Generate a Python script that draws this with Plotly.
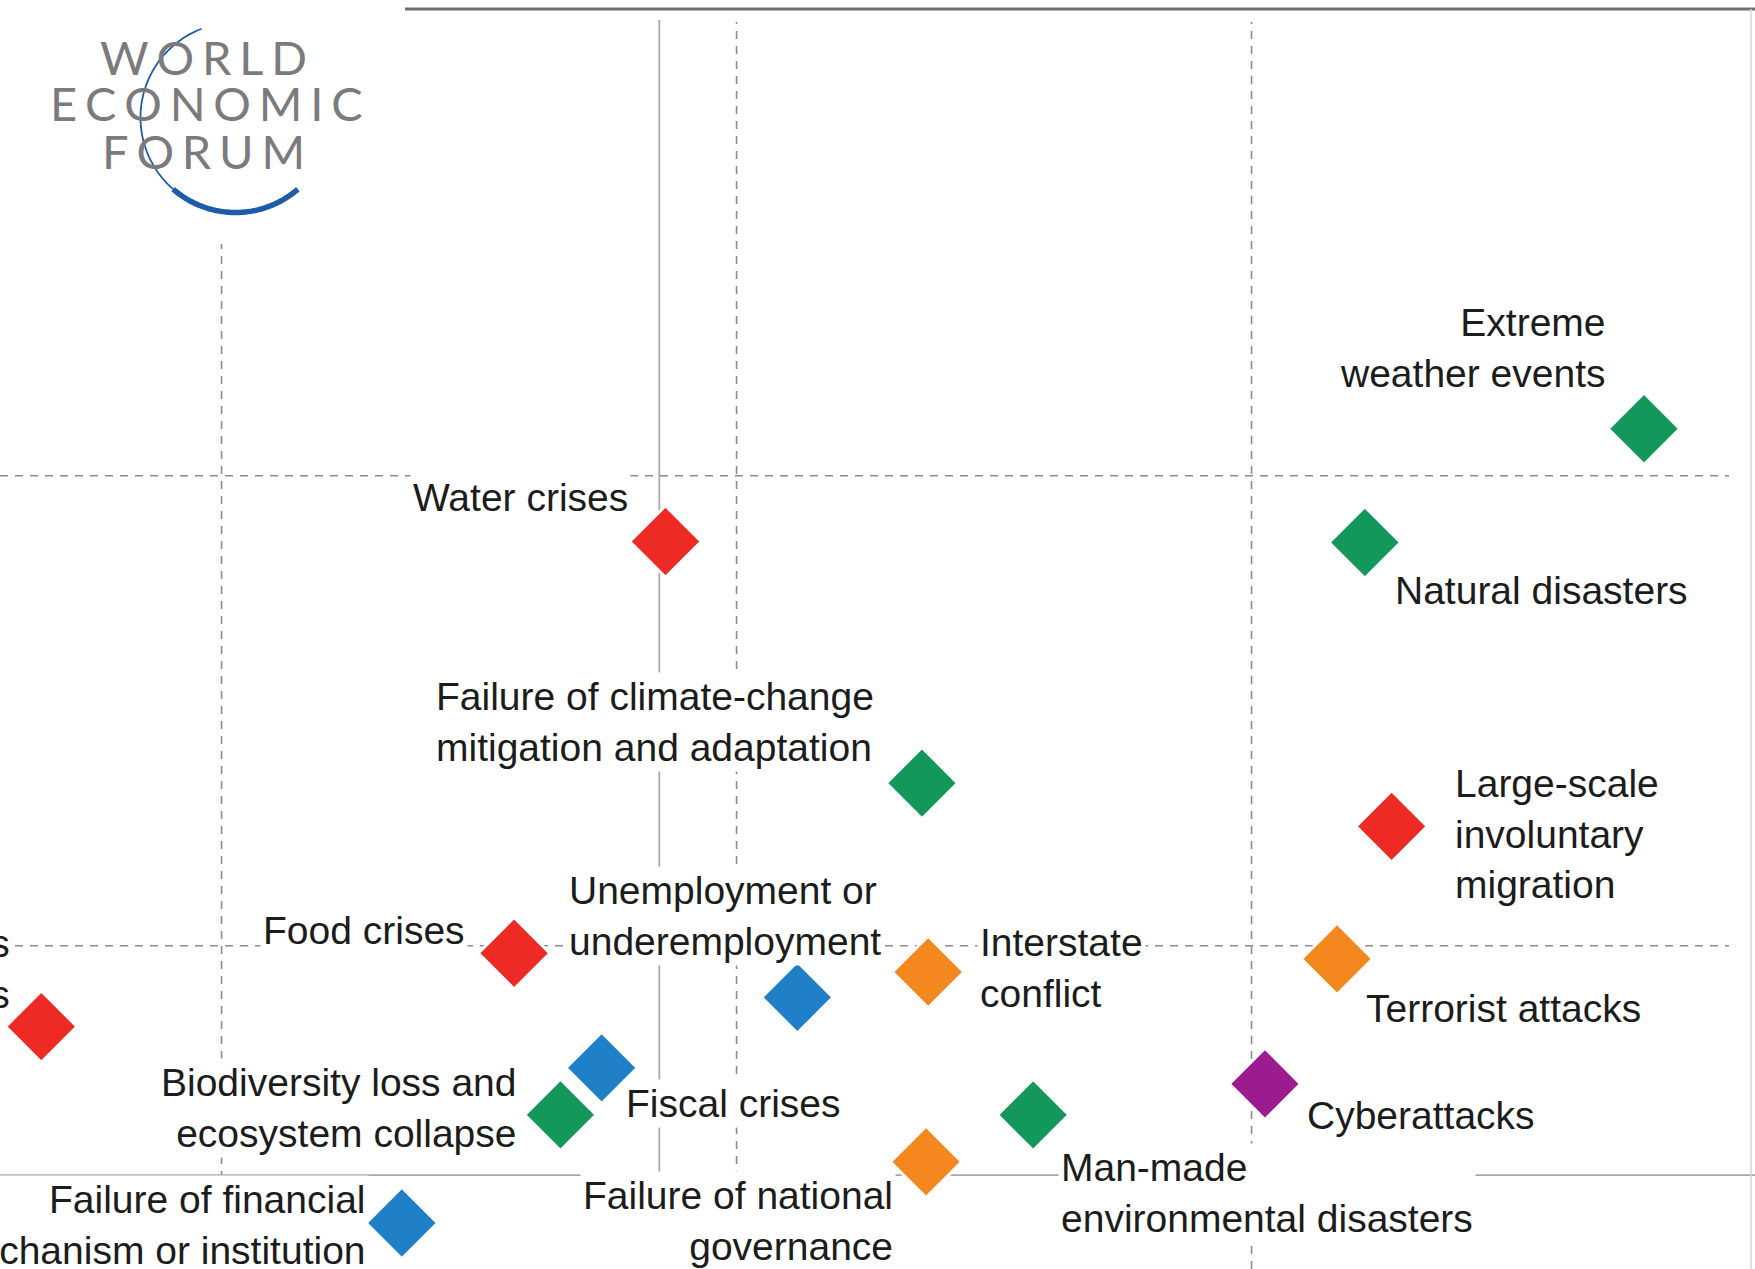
import numpy as np
import plotly.graph_objects as go

# ---------------- data ----------------
risks = [
    "Extreme weather events", "Natural disasters", "Water crises",
    "Failure of climate-change mitigation and adaptation",
    "Large-scale involuntary migration", "Food crises",
    "Unemployment or underemployment", "Interstate conflict",
    "Terrorist attacks", "Spread of infectious diseases",
    "Biodiversity loss and ecosystem collapse", "Fiscal crises",
    "Man-made environmental disasters", "Cyberattacks",
    "Failure of national governance",
    "Failure of financial mechanism or institution",
]
labels = [
    "Extreme<br>weather events", "Natural disasters", "Water crises",
    "Failure of climate-change<br>mitigation and adaptation",
    "Large-scale<br>involuntary<br>migration", "Food crises",
    "Unemployment or<br>underemployment", "Interstate<br>conflict",
    "Terrorist attacks", "Spread of infectious<br>diseases",
    "Biodiversity loss and<br>ecosystem collapse", "Fiscal crises",
    "Man-made<br>environmental disasters", "Cyberattacks",
    "Failure of national<br>governance",
    "Failure of financial<br>mechanism or institution",
]
category = [
    "Environmental", "Environmental", "Societal", "Environmental",
    "Societal", "Societal", "Economic", "Geopolitical", "Geopolitical",
    "Societal", "Environmental", "Economic", "Environmental",
    "Technological", "Geopolitical", "Economic",
]
likelihood = [5.381, 5.110, 4.431, 4.680, 5.136, 4.284, 4.559, 4.686,
              5.083, 3.825, 4.329, 4.369, 4.788, 5.013, 4.684, 4.175]
impact = [5.050, 4.929, 4.930, 4.673, 4.627, 4.492, 4.445, 4.472,
          4.486, 4.414, 4.320, 4.370, 4.320, 4.353, 4.270, 4.205]

x_grid = [4.0, 4.5, 5.0]
y_grid = [5.0, 4.5]
x_avg = 4.425
y_avg = 4.256

logo_words = ["WORLD", "ECONOMIC", "FORUM"]

# ---------------- styles ----------------
W, H = 1755, 1269
colors = {
    "Economic": "#1f80c8",
    "Environmental": "#14975a",
    "Geopolitical": "#f5871f",
    "Societal": "#ee2a24",
    "Technological": "#9c1b8e",
}
# label placement: (xanchor/align, xshift px, yshift px)
label_pos = [
    ("right", -35, 81), ("left", 27, -48), ("right", -34, 44),
    ("left", -489, 61), ("left", 60, -8), ("right", -46, 23),
    ("left", -231, 81), ("left", 49, 4), ("left", 26, -50),
    ("right", -28, 58), ("right", -40, 7), ("left", 21, -36),
    ("left", 25, -78), ("left", 39, -32), ("right", -30, -59),
    ("right", -33, -2),
]

fig = go.Figure()
for cat, col in colors.items():
    idx = [i for i, c in enumerate(category) if c == cat]
    fig.add_trace(go.Scatter(
        x=[likelihood[i] for i in idx], y=[impact[i] for i in idx],
        mode="markers", name=cat, text=[risks[i] for i in idx],
        hoverinfo="text",
        marker=dict(symbol="diamond", size=55, color=col,
                    line=dict(color="white", width=3)),
    ))

annotations = []
for i, lab in enumerate(labels):
    anc, dx, dy = label_pos[i]
    annotations.append(dict(
        x=likelihood[i], y=impact[i], xref="x", yref="y", text=lab,
        showarrow=False, xanchor=anc, align=anc, yanchor="middle",
        xshift=dx, yshift=dy, bgcolor="white", borderpad=2,
        font=dict(family="Liberation Sans, Arial, sans-serif", size=39,
                  color="#1c1c1c"),
    ))

# logo words (pixel centres in the picture), letter-spaced
logo_pos = [(203, 57), (206, 103), (203, 151)]
for word, (px, py) in zip(logo_words, logo_pos):
    annotations.append(dict(
        x=px / W, y=1 - py / H, xref="paper", yref="paper",
        text="\u2006".join(word), showarrow=False,
        xanchor="center", yanchor="middle",
        font=dict(family="Lato, Open Sans, sans-serif", size=47,
                  color="#7b7b7d"),
    ))

shapes = []
dash = "8px,7px"
for xv in x_grid:
    top = 1 - 244 / H if xv == x_grid[0] else 1 - 22 / H
    shapes.append(dict(type="line", xref="x", yref="paper", x0=xv, x1=xv,
                       y0=0, y1=top, layer="below",
                       line=dict(color="#8c8c8c", width=1.6, dash=dash)))
for yv in y_grid:
    shapes.append(dict(type="line", xref="paper", yref="y", x0=0,
                       x1=1729 / W, y0=yv, y1=yv, layer="below",
                       line=dict(color="#8c8c8c", width=1.6, dash=dash)))
shapes.append(dict(type="line", xref="x", yref="paper", x0=x_avg, x1=x_avg,
                   y0=0, y1=1 - 20 / H, layer="below",
                   line=dict(color="#a8a8a8", width=1.8)))
shapes.append(dict(type="line", xref="paper", yref="y", x0=0, x1=1,
                   y0=y_avg, y1=y_avg, layer="below",
                   line=dict(color="#a8a8a8", width=1.8)))
# frame
shapes.append(dict(type="line", xref="paper", yref="paper", x0=405 / W,
                   x1=1, y0=1 - 9 / H, y1=1 - 9 / H, layer="below",
                   line=dict(color="#6e6e6e", width=3)))
shapes.append(dict(type="line", xref="paper", yref="paper", x0=1751 / W,
                   x1=1751 / W, y0=0, y1=1 - 9 / H, layer="below",
                   line=dict(color="#d6d6d6", width=1.5)))


# logo arc
def arc_path(a0, a1, cx=235.5, cy=117.5, r=95.0, n=80):
    th = np.radians(np.linspace(a0, a1, n))
    px = cx + r * np.cos(th)
    py = cy + r * np.sin(th)
    pts = [f"{x / W:.5f},{1 - y / H:.5f}" for x, y in zip(px, py)]
    return "M " + " L ".join(pts)


shapes.append(dict(type="path", xref="paper", yref="paper",
                   path=arc_path(249, 128), layer="above",
                   line=dict(color="#1f5ca8", width=1.8)))
shapes.append(dict(type="path", xref="paper", yref="paper",
                   path=arc_path(131, 49), layer="above",
                   line=dict(color="#1f5ca8", width=5.5)))

fig.update_layout(
    width=W, height=H, margin=dict(l=0, r=0, t=0, b=0),
    paper_bgcolor="white", plot_bgcolor="white", showlegend=False,
    xaxis=dict(range=[3.7849, 5.4888], visible=False, fixedrange=True),
    yaxis=dict(range=[4.1561, 5.5061], visible=False, fixedrange=True),
    annotations=annotations, shapes=shapes,
)

fig.write_html("out.html", config={"displayModeBar": False},
               post_script="document.body.style.margin='0';"
                           "document.body.style.overflow='hidden';")
